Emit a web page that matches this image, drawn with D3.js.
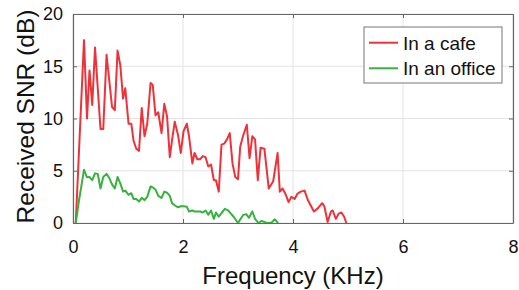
<!DOCTYPE html>
<html lang="en">
<head>
<meta charset="utf-8">
<style>
  body { margin: 0; background: #fff; }
  svg { font-family: "Liberation Sans", Arial, sans-serif; }
  .grid line { stroke: #e3e3e3; stroke-width: 1; }
</style>
</head>
<body>
<svg id="chart" width="519" height="290"></svg>
<script src="https://d3js.org/d3.v7.min.js"></script>
<script>
// frequency (kHz) / SNR (dB)
var cafeFreq = [0.05,0.20,0.255,0.30,0.35,0.40,0.50,0.55,0.61,0.71,0.76,0.81,0.86,0.91,0.95,1.01,1.06,1.10,1.15,1.20,1.25,1.30,1.35,1.41,1.45,1.50,1.55,1.61,1.66,1.71,1.76,1.80,1.85,1.91,1.96,2.01,2.07,2.11,2.17,2.21,2.26,2.31,2.36,2.41,2.46,2.51,2.56,2.60,2.65,2.70,2.75,2.80,2.85,2.90,2.95,3.00,3.04,3.09,3.16,3.21,3.26,3.31,3.36,3.41,3.48,3.56,3.64,3.72,3.76,3.81,3.87,3.92,3.97,4.03,4.08,4.14,4.21,4.27,4.38,4.45,4.53,4.57,4.63,4.69,4.72,4.78,4.83,4.88,4.93,4.97];
var cafeSNR = [0,17.5,10.0,14.6,11.3,16.8,9.0,9.0,16.1,11.1,10.8,16.5,15.1,11.9,12.9,9.5,9.5,7.9,7.1,6.9,11.0,8.3,9.5,13.4,13.2,10.3,10.6,8.6,11.4,10.2,6.3,7.9,9.7,8.4,6.7,8.8,9.5,8.3,5.7,6.7,6.1,6.1,6.4,6.3,5.4,5.6,4.1,4.1,3.0,7.5,7.6,8.0,8.6,5.7,4.4,4.2,7.3,8.3,9.4,6.2,8.3,8.0,4.1,7.2,7.1,3.3,4.0,6.7,3.0,3.3,2.7,2.0,2.5,2.3,2.8,3.0,3.1,2.2,1.1,1.4,1.9,1.6,0.1,1.1,1.2,0.4,0.9,1.0,0.6,0];

var officeFreq = [0.05,0.11,0.16,0.20,0.25,0.30,0.35,0.40,0.45,0.50,0.55,0.61,0.66,0.71,0.76,0.81,0.86,0.91,0.95,1.01,1.06,1.10,1.15,1.20,1.25,1.30,1.35,1.41,1.45,1.50,1.55,1.61,1.66,1.71,1.76,1.80,1.85,1.91,1.96,2.01,2.07,2.11,2.17,2.21,2.31,2.36,2.41,2.46,2.51,2.56,2.60,2.65,2.76,2.82,2.92,3.00,3.09,3.15,3.20,3.26,3.31,3.37,3.43,3.52,3.60,3.67,3.73];
var officeSNR = [0,2.2,3.8,5.1,4.4,4.4,4.1,4.75,4.7,3.3,4.4,4.7,4.3,3.7,3.3,4.4,3.8,3.0,3.1,2.7,2.85,2.3,2.3,2.05,2.4,2.2,2.5,3.5,3.4,3.2,2.6,2.4,3.0,2.9,2.6,1.9,1.7,1.5,1.6,1.6,1.55,1.1,1.2,1.1,1.1,1.0,1.2,0.8,1.2,0.4,1.0,0.6,1.35,1.2,0.6,0,0.75,0.85,0.5,1.1,0.4,0,0.2,0,0,0.35,0];

var xTicks = [0,2,4,6,8];
var yTicks = [0,5,10,15,20];
var seriesNames = ["In a cafe","In an office"];
var seriesColors = ["#ee3239","#35b33c"];

var svg = d3.select("#chart");
var m = {left: 73, right: 6, top: 14, bottom: 67};
var W = 519 - m.left - m.right, H = 290 - m.top - m.bottom;

var x = d3.scaleLinear().domain([0,8]).range([0,W]);
var y = d3.scaleLinear().domain([0,20]).range([H,0]);

var g = svg.append("g").attr("transform","translate(" + m.left + "," + m.top + ")");

// grid
g.append("g").attr("class","grid")
  .selectAll("line.v").data(xTicks).enter().append("line")
  .attr("x1", function(d){ return x(d); }).attr("x2", function(d){ return x(d); })
  .attr("y1", 0).attr("y2", H);
g.append("g").attr("class","grid")
  .selectAll("line.h").data(yTicks).enter().append("line")
  .attr("y1", function(d){ return y(d); }).attr("y2", function(d){ return y(d); })
  .attr("x1", 0).attr("x2", W);

// lines
var line = d3.line().x(function(d){ return x(d[0]); }).y(function(d){ return y(d[1]); });
var series = [d3.zip(cafeFreq, cafeSNR), d3.zip(officeFreq, officeSNR)];
g.selectAll("path.s").data(series).enter().append("path")
  .attr("fill","none")
  .attr("stroke", function(d,i){ return seriesColors[i]; })
  .attr("stroke-width", 2)
  .attr("stroke-linejoin","round")
  .attr("d", line);

// axes (box, ticks inward)
function styleAxis(sel) {
  sel.select(".domain").attr("stroke","#666").attr("stroke-width",1.2);
  sel.selectAll(".tick line").attr("stroke","#666");
  sel.selectAll("text").attr("fill","#111").style("font-size","18px");
}
g.append("g").attr("transform","translate(0," + H + ")")
  .call(d3.axisBottom(x).tickValues(xTicks).tickSize(-4).tickSizeOuter(0).tickPadding(17))
  .call(styleAxis);
g.append("g")
  .call(d3.axisLeft(y).tickValues(yTicks).tickSize(-4).tickSizeOuter(0).tickPadding(10))
  .call(styleAxis);
g.append("g")
  .call(d3.axisTop(x).tickValues(xTicks).tickSize(-4).tickSizeOuter(0).tickFormat(""))
  .call(styleAxis);
g.append("g").attr("transform","translate(" + W + ",0)")
  .call(d3.axisRight(y).tickValues(yTicks).tickSize(-4).tickSizeOuter(0).tickFormat(""))
  .call(styleAxis);

// axis labels
svg.append("text").attr("x", m.left + W/2).attr("y", 284)
  .attr("text-anchor","middle").style("font-size","24px").attr("fill","#111")
  .text("Frequency (KHz)");
svg.append("text").attr("transform","translate(34," + (m.top + H/2 - 2) + ") rotate(-90)")
  .attr("text-anchor","middle").style("font-size","24.5px").attr("fill","#111")
  .text("Received SNR (dB)");

// legend
var lg = svg.append("g").attr("transform","translate(364,27)");
lg.append("rect").attr("width",138).attr("height",56)
  .attr("fill","#fff").attr("stroke","#777").attr("stroke-width",1);
seriesNames.forEach(function(name,i){
  var yy = 15.7 + i*25.6;
  lg.append("line").attr("x1",5).attr("x2",34).attr("y1",yy).attr("y2",yy)
    .attr("stroke",seriesColors[i]).attr("stroke-width",2);
  lg.append("text").attr("x",39).attr("y",yy+6.8).style("font-size","19px")
    .attr("fill","#111").text(name);
});
</script>
</body>
</html>
